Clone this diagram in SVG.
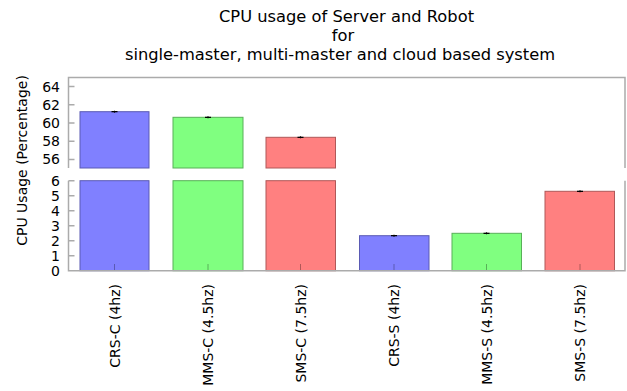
<svg xmlns="http://www.w3.org/2000/svg" width="627" height="391" viewBox="0 0 627 391">
<style>
text{font-family:"DejaVu Sans","Liberation Sans",sans-serif;fill:#000}
.title{font-size:16.3px;text-anchor:middle}
.tick{font-size:14px;text-anchor:end}
.xl{font-size:14px;text-anchor:end}
.frame{stroke:#ababab;stroke-width:1.5;fill:none}
.blue{fill:#8080ff;stroke:#5a5ab4;stroke-width:1}
.green{fill:#80ff80;stroke:#58b058;stroke-width:1}
.red{fill:#ff8080;stroke:#b05858;stroke-width:1}
.err{stroke:#000;stroke-width:1.2}
</style>
<rect width="627" height="391" fill="#fff"/>
<g id="title">
<text class="title" x="346.5" y="21.5">CPU usage of Server and Robot</text>
<text class="title" x="343" y="40.5">for</text>
<text class="title" x="340" y="59.5">single-master, multi-master and cloud based system</text>
</g>
<g id="ylabel">
<text transform="translate(27,160.5) rotate(-90)" font-size="14" text-anchor="middle">CPU Usage (Percentage)</text>
</g>
<g id="bars-upper">
<rect class="blue" x="80" y="111.7" width="69" height="56.3"/>
<rect class="green" x="173" y="117.3" width="70" height="50.7"/>
<rect class="red" x="266" y="137.3" width="69.5" height="30.7"/>
</g>
<g id="bars-lower">
<rect class="blue" x="80" y="180.7" width="69" height="90"/>
<rect class="green" x="173" y="180.7" width="70" height="90"/>
<rect class="red" x="266" y="180.7" width="69.5" height="90"/>
<rect class="blue" x="359.5" y="235.7" width="69.5" height="35"/>
<rect class="green" x="452" y="233.3" width="69.5" height="37.4"/>
<rect class="red" x="545" y="191.3" width="69.5" height="79.4"/>
</g>
<g id="bar-ticks">
<line x1="114.5" y1="264" x2="114.5" y2="270.7" stroke="#5a5ab4"/>
<line x1="208" y1="264" x2="208" y2="270.7" stroke="#58b058"/>
<line x1="300.5" y1="264" x2="300.5" y2="270.7" stroke="#b05858"/>
<line x1="394" y1="264" x2="394" y2="270.7" stroke="#5a5ab4"/>
<line x1="486.5" y1="264" x2="486.5" y2="270.7" stroke="#58b058"/>
<line x1="580" y1="264" x2="580" y2="270.7" stroke="#b05858"/>
</g>
<g id="errorbars">
<path class="err" d="M111.5 111.7h6M114.5 110.7v2M205 117.3h6M208 116.3v2M297.5 137.3h6M300.5 136.3v2M391 235.7h6M394 234.7v2M483.5 233.3h6M486.5 232.3v2M577 191.3h6M580 190.3v2"/>
</g>
<g id="axes">
<path class="frame" d="M68.5 168V77.5H625V168"/>
<path class="frame" d="M68.5 180.7V270.7H625V180.7"/>
<path class="frame" d="M68.5 86.6h6M68.5 104.8h6M68.5 123h6M68.5 141.2h6M68.5 159.4h6"/>
<path class="frame" d="M68.5 180.7h6M68.5 195.7h6M68.5 210.7h6M68.5 225.7h6M68.5 240.7h6M68.5 255.7h6"/>
</g>
<g id="yticks">
<text class="tick" x="60" y="91.6">64</text>
<text class="tick" x="60" y="109.8">62</text>
<text class="tick" x="60" y="128">60</text>
<text class="tick" x="60" y="146.2">58</text>
<text class="tick" x="60" y="164.4">56</text>
<text class="tick" x="60" y="185.7">6</text>
<text class="tick" x="60" y="200.7">5</text>
<text class="tick" x="60" y="215.7">4</text>
<text class="tick" x="60" y="230.7">3</text>
<text class="tick" x="60" y="245.7">2</text>
<text class="tick" x="60" y="260.7">1</text>
<text class="tick" x="60" y="275.7">0</text>
</g>
<g id="xlabels">
<text class="xl" transform="translate(120,284) rotate(-90)">CRS-C (4hz)</text>
<text class="xl" transform="translate(213,284) rotate(-90)">MMS-C (4.5hz)</text>
<text class="xl" transform="translate(306,284) rotate(-90)">SMS-C (7.5hz)</text>
<text class="xl" transform="translate(399,284) rotate(-90)">CRS-S (4hz)</text>
<text class="xl" transform="translate(492,284) rotate(-90)">MMS-S (4.5hz)</text>
<text class="xl" transform="translate(585,284) rotate(-90)">SMS-S (7.5hz)</text>
</g>
</svg>
